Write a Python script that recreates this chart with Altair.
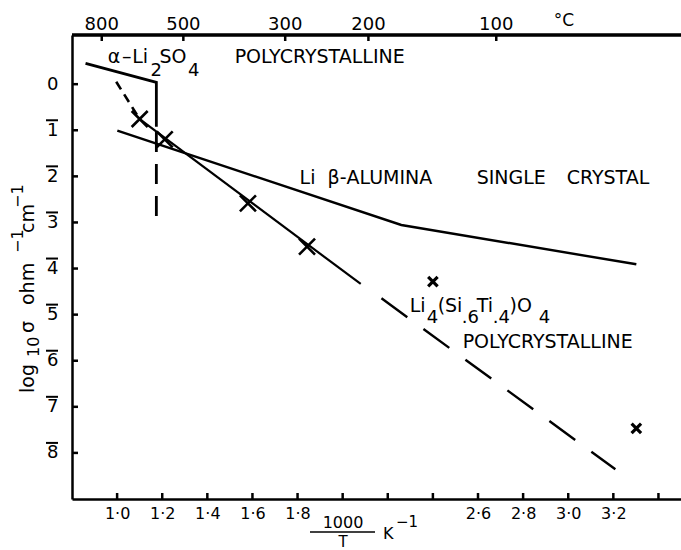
import altair as alt
import pandas as pd

# ---------------- data ----------------
celsius_top = [800, 500, 300, 200, 100]
x_tick_values = [1.0, 1.2, 1.4, 1.6, 1.8, 2.0, 2.2, 2.4, 2.6, 2.8, 3.0, 3.2, 3.4]
x_label_values = [1.0, 1.2, 1.4, 1.6, 1.8, 2.6, 2.8, 3.0, 3.2]
y_tick_values = [0, -1, -2, -3, -4, -5, -6, -7, -8]
y_bar_values = [-1, -2, -3, -4, -5, -6, -7, -8]

li2so4_x = [0.860, 1.174, 1.174]
li2so4_y = [0.453, 0.041, -0.923]
li2so4_dash_x = [1.174, 1.174]
li2so4_dash_y = [-1.038, -2.925]

beta_x = [1.001, 2.260, 3.302]
beta_y = [-1.009, -3.055, -3.908]

lsto_short_x = [0.996, 1.100]
lsto_short_y = [0.054, -0.760]
lsto_solid_x = [1.100, 2.080]
lsto_solid_y = [-0.760, -4.335]
lsto_long_x = [2.172, 3.209]
lsto_long_y = [-4.646, -8.356]

cross_big_x = [1.100, 1.211, 1.580, 1.842]
cross_big_y = [-0.756, -1.196, -2.585, -3.526]
cross_small_x = [2.400, 3.302]
cross_small_y = [-4.286, -7.466]

# ---------------- layout ----------------
W, H = 609, 464
XDOM = [0.8, 3.5]
YDOM = [-9.0, 1.067]
FONT = "DejaVu Sans"
XPATH = "M -1 -1 L 1 1 M -1 1 L 1 -1"

x_axis = alt.Axis(
    values=x_label_values, ticks=False, grid=False, title=None,
    domainColor="black", domainWidth=2.5, labelFont=FONT, labelFontSize=16,
    labelColor="black", labelBaseline="top", labelPadding=6,
    labelExpr="replace(format(datum.value, '.1f'), '.', '\u00b7')",
)
y_axis = alt.Axis(
    values=y_tick_values, ticks=False, grid=False, title=None,
    domainColor="black", domainWidth=2.5, labelFont=FONT, labelFontSize=18,
    labelColor="black", labelPadding=14,
    labelExpr="datum.value == 0 ? '0' : '' + (-datum.value)",
)


def X(field):
    return alt.X(f"{field}:Q", scale=alt.Scale(domain=XDOM, nice=False, zero=False), axis=x_axis)


def Y(field):
    return alt.Y(f"{field}:Q", scale=alt.Scale(domain=YDOM, nice=False, zero=False), axis=y_axis)


def seg(xs, ys):
    return pd.DataFrame({"x": xs, "y": ys, "o": list(range(len(xs)))})


def line(df, width=2.4, dash=None):
    kw = dict(color="black", strokeWidth=width, strokeCap="butt")
    if dash:
        kw["strokeDash"] = dash
    return alt.Chart(df).mark_line(**kw).encode(x=X("x"), y=Y("y"), order="o:Q")


layers = []
layers.append(line(seg(li2so4_x, li2so4_y), 2.8))
layers.append(line(seg(li2so4_dash_x, li2so4_dash_y), 2.8, [20, 12]))
layers.append(line(seg(beta_x, beta_y), 2.4))
layers.append(line(seg(lsto_short_x, lsto_short_y), 2.6, [9, 6]))
layers.append(line(seg(lsto_solid_x, lsto_solid_y), 2.2))
layers.append(line(seg(lsto_long_x, lsto_long_y), 2.4, [32, 20]))

layers.append(
    alt.Chart(seg(cross_big_x, cross_big_y)).mark_point(
        shape=XPATH, filled=False, color="black", strokeWidth=2.6, size=256, opacity=1
    ).encode(x=X("x"), y=Y("y"))
)
layers.append(
    alt.Chart(seg(cross_small_x, cross_small_y)).mark_point(
        shape=XPATH, filled=False, color="black", strokeWidth=3.2, size=90, opacity=1
    ).encode(x=X("x"), y=Y("y"))
)

# inside ticks
bt = pd.DataFrame({"v": x_tick_values})
layers.append(alt.Chart(bt).mark_rule(color="black", strokeWidth=2.5).encode(
    x=X("v"), y=alt.value(H), y2=alt.value(H - 6)))
lt = pd.DataFrame({"v": y_tick_values})
layers.append(alt.Chart(lt).mark_rule(color="black", strokeWidth=2.5).encode(
    y=Y("v"), x=alt.value(0), x2=alt.value(6)))
# bars over negative characteristic digits (bar notation)
lb = pd.DataFrame({"v": y_bar_values})
layers.append(alt.Chart(lb).mark_rule(color="black", strokeWidth=2, yOffset=-10).encode(
    y=Y("v"), x=alt.value(-26), x2=alt.value(-14)))

# top (°C) axis
top = pd.DataFrame({"c": celsius_top})
top["v"] = 1000.0 / (top["c"] + 273.0)
top["t"] = top["c"].astype(str)
layers.append(alt.Chart(top).mark_rule(color="black", strokeWidth=2.5).encode(
    x=X("v"), y=alt.value(0), y2=alt.value(6)))
layers.append(alt.Chart(top).mark_rule(color="black", strokeWidth=2.5).encode(
    x=alt.value(0), x2=alt.value(W), y=alt.value(0)))
layers.append(alt.Chart(top).mark_text(
    font=FONT, fontSize=18, color="black", baseline="alphabetic", align="center"
).encode(x=X("v"), y=alt.value(-5), text="t:N"))

# annotations (text pieces, positions in data units)
ann = pd.DataFrame([
    ("°C", 2.936, 1.262, 17),
    ("α", 0.958, 0.460, 19),
    ("–", 1.022, 0.460, 19),
    ("Li", 1.067, 0.460, 19),
    ("2", 1.148, 0.188, 18),
    ("SO", 1.188, 0.460, 19),
    ("4", 1.314, 0.188, 18),
    ("POLYCRYSTALLINE", 1.521, 0.460, 19),
    ("Li", 1.809, -2.166, 19),
    ("β-ALUMINA", 1.933, -2.166, 19),
    ("SINGLE", 2.594, -2.166, 19),
    ("CRYSTAL", 2.993, -2.166, 19),
    ("Li", 2.297, -4.937, 19),
    ("4", 2.373, -5.175, 18),
    ("(Si", 2.421, -4.937, 19),
    (".6", 2.528, -5.175, 18),
    ("Ti", 2.594, -4.937, 19),
    (".4", 2.665, -5.175, 18),
    (")O", 2.740, -4.937, 19),
    ("4", 2.869, -5.175, 18),
    ("POLYCRYSTALLINE", 2.532, -5.724, 19),
], columns=["t", "x", "y", "s"])
layers.append(alt.Chart(ann).mark_text(
    font=FONT, color="black", baseline="alphabetic", align="left"
).encode(x=X("x"), y=Y("y"), text="t:N", size=alt.Size("s:Q", scale=None, legend=None)))

# y axis title, rotated pieces (pixel offsets from the plot's top-left corner)
ytitle = pd.DataFrame([
    ("log", -38, 358, 19),
    ("10", -33, 322, 16),
    ("σ", -38, 298, 19),
    ("ohm", -38, 270, 19),
    ("−1", -49, 218, 16),
    ("cm", -38, 198, 19),
    ("−1", -49, 173, 16),
], columns=["t", "px", "py", "s"])
layers.append(alt.Chart(ytitle).mark_text(
    font=FONT, color="black", angle=270, baseline="alphabetic", align="left"
).encode(x=alt.X("px:Q", scale=None), y=alt.Y("py:Q", scale=None), text="t:N",
         size=alt.Size("s:Q", scale=None, legend=None)))

# x axis title: 1000 / T  K^-1
xtitle = pd.DataFrame([
    ("1000", 271, H + 29, 16, "center"),
    ("T", 271, H + 48, 15, "center"),
    ("K", 311, H + 40, 16, "left"),
    ("−1", 324, H + 28, 15, "left"),
], columns=["t", "px", "py", "s", "a"])
for a in ["center", "left"]:
    layers.append(alt.Chart(xtitle[xtitle["a"] == a]).mark_text(
        font=FONT, color="black", baseline="alphabetic", align=a
    ).encode(x=alt.X("px:Q", scale=None), y=alt.Y("py:Q", scale=None), text="t:N",
             size=alt.Size("s:Q", scale=None, legend=None)))
layers.append(alt.Chart(top.head(1)).mark_rule(color="black", strokeWidth=1.5).encode(
    x=alt.value(238), x2=alt.value(303), y=alt.value(H + 33)))

chart = alt.layer(*layers).properties(
    width=W, height=H,
    padding={"left": 72, "top": 35, "right": 0, "bottom": 51},
    autosize=alt.AutoSizeParams(type="none"),
).configure_view(stroke=None).configure(background="white")

chart.save("out.html", embed_options={"renderer": "svg", "actions": False})
